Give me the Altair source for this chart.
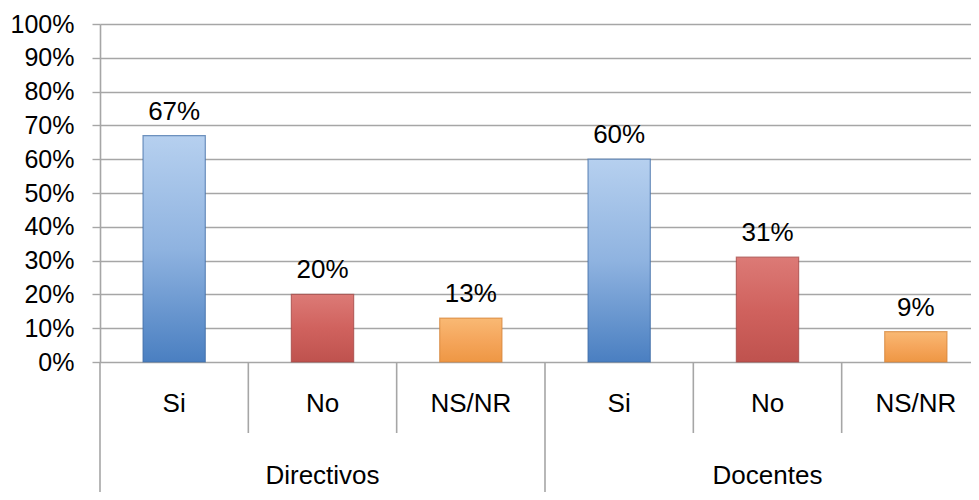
import altair as alt
import pandas as pd

groups = ["Directivos", "Directivos", "Directivos", "Docentes", "Docentes", "Docentes"]
answers = ["Si", "No", "NS/NR", "Si", "No", "NS/NR"]
values = [0.67, 0.20, 0.13, 0.60, 0.31, 0.09]
y_ticks = [0.0, 0.1, 0.2, 0.3, 0.4, 0.5, 0.6, 0.7, 0.8, 0.9, 1.0]

keys = [g + "|" + a for g, a in zip(groups, answers)]
df = pd.DataFrame({"key": keys, "group": groups, "answer": answers, "value": values})

FONT = "Liberation Sans"
GRID = "#A6A6A6"

xscale = alt.Scale(domain=keys, paddingInner=0, paddingOuter=0)
x = alt.X("key:N", scale=xscale, axis=None)
x_start = alt.X("key:N", scale=xscale, axis=None, bandPosition=0)
yscale = alt.Scale(domain=[0, 1])
y_axis = alt.Y(
    "value:Q", scale=yscale,
    axis=alt.Axis(values=y_ticks, format=".0%", title=None, grid=True,
                  gridColor=GRID, gridWidth=1.4, domainColor=GRID, domainWidth=1.6,
                  tickColor=GRID, tickSize=8, tickWidth=1.4, labelFontSize=25,
                  labelColor="black", labelPadding=18, labelFont=FONT),
)

base = alt.Chart(df)

styles = {
    "Si": (["#B6D0EF", "#8FB3E0", "#4A7FC1"], "#3E6CA5"),
    "No": (["#DC7A76", "#D0625E", "#BF524E"], "#A34441"),
    "NS/NR": (["#F9B974", "#F5A65C", "#EE9744"], "#D4843A"),
}

layers = []
for ans, (stops, stroke) in styles.items():
    grad = alt.Gradient(
        gradient="linear",
        stops=[alt.GradientStop(offset=0, color=stops[0]),
               alt.GradientStop(offset=0.5, color=stops[1]),
               alt.GradientStop(offset=1, color=stops[2])],
        x1=0, x2=0, y1=0, y2=1,
    )
    layers.append(
        base.transform_filter(alt.datum.answer == ans)
        .mark_bar(width={"band": 0.42}, color=grad, stroke=stroke,
                  strokeWidth=1.2, strokeOpacity=0.7)
        .encode(x=x, y=y_axis)
    )

value_labels = base.mark_text(dy=-16, baseline="alphabetic", fontSize=26,
                              font=FONT, color="black").encode(
    x=x, y=y_axis, text=alt.Text("value:Q", format=".0%"))

answer_labels = base.mark_text(baseline="alphabetic", fontSize=26, font=FONT,
                               color="black").encode(
    x=x, y=alt.value(388), text="answer:N")

group_labels = base.transform_filter(alt.datum.answer == "No").mark_text(
    baseline="alphabetic", fontSize=26, font=FONT, color="black").encode(
    x=x, y=alt.value(460), text="group:N")

short_sep = base.transform_filter(alt.datum.answer != "Si").mark_rule(
    color=GRID, strokeWidth=1.6).encode(
    x=x_start, y=alt.value(338), y2=alt.value(409))

long_sep = base.transform_filter(alt.datum.answer == "Si").mark_rule(
    color=GRID, strokeWidth=1.6).encode(
    x=x_start, y=alt.value(338), y2=alt.value(480))

chart = alt.layer(*layers, value_labels, answer_labels, group_labels,
                  short_sep, long_sep).properties(
    width=890, height=338,
    autosize=alt.AutoSizeParams(type="none"),
    padding={"left": 92, "top": 16, "right": -19, "bottom": 130},
    background="white",
).configure_view(stroke=None)

chart.save("out.html", embed_options={"renderer": "svg", "actions": False})
